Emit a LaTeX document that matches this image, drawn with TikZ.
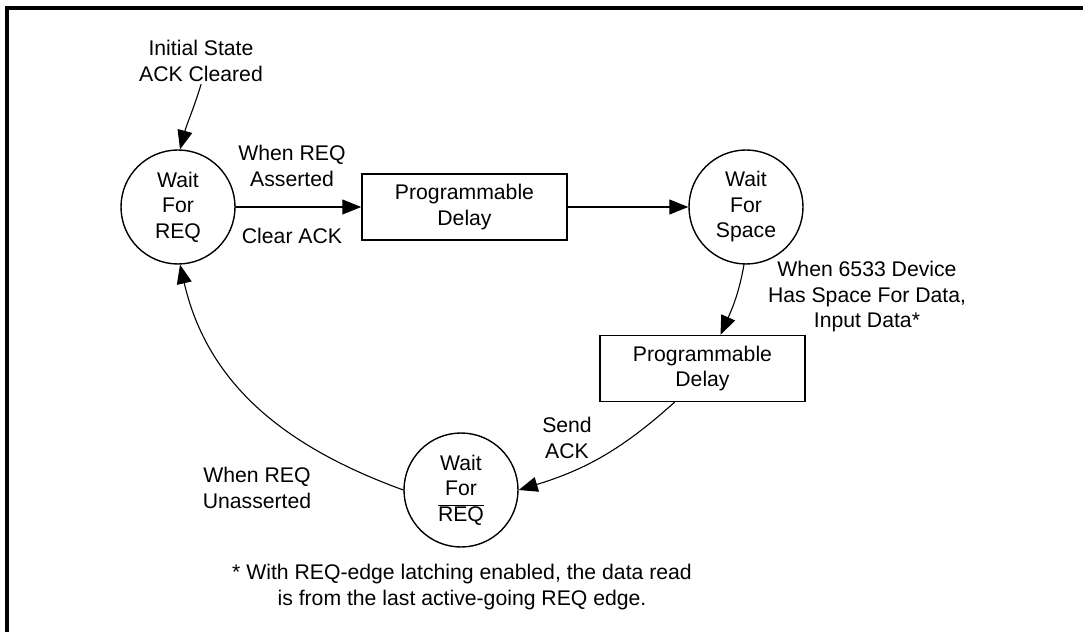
\documentclass[tikz,border=0pt]{standalone}
\usepackage{fontspec}
\setmainfont{Liberation Sans}
\usetikzlibrary{arrows.meta}

\begin{document}
\begin{tikzpicture}[x=1pt,y=1pt,line cap=round,font=\fontsize{21.2pt}{25.5pt}\selectfont]
	\tikzstyle{state}=[circle,draw,line width=1.4pt,minimum size=114pt,inner sep=0pt,align=center];
	\tikzstyle{delay}=[rectangle,draw,line width=1.5pt,minimum width=205pt,minimum height=66pt,inner sep=0pt,align=center];
	\tikzstyle{lbl}=[inner sep=0pt,align=center];
	\tikzstyle{go}=[line width=1.1pt,-{Triangle[length=19pt,width=15pt]}];

	\useasboundingbox (0,0) rectangle (1083,632);
	\draw[line width=4pt,line cap=butt,line join=miter] (6.5,0) -- (6.5,624) -- (1083,624);

	% states and delays
	\node[state] (waitreq)   at (178,425)   {Wait\\For\\REQ};
	\node[delay] (delayA)    at (464.5,425) {Programmable\\Delay};
	\node[state] (waitspace) at (746,425)   {Wait\\For\\Space};
	\node[delay] (delayB)    at (702.5,263.5) {Programmable\\Delay};
	\node[state] (waitnreq)  at (461,142)   {Wait\\For\\$\overline{\mbox{REQ}}$};

	% labels
	\node[lbl,outer sep=3pt] (init) at (201,571) {Initial State\\ACK Cleared};
	\node[lbl] (asserted)   at (292,466) {When REQ\\Asserted};
	\node[lbl] (clearack)   at (292,396) {Clear ACK};
	\node[lbl] (hasspace)   at (867,335) {When 6533 Device\\Has Space For Data,\\Input Data*};
	\node[lbl] (sendack)    at (567,194) {Send\\ACK};
	\node[lbl] (unasserted) at (257,144) {When REQ\\Unasserted};
	\node[lbl] (note)       at (462,45)  {* With REQ-edge latching enabled, the data read\\is from the last active-going REQ edge.};

	% transitions
	\draw[go] (init.south) to[out=-107,in=75] (waitreq.88);
	\draw[go] (waitreq) -- (delayA);
	\draw[go] (delayA) -- (waitspace);
	\draw[go] (waitspace.-92) to[out=-100,in=66] ([xshift=18pt]delayB.north);
	\draw[go] ([xshift=-28pt]delayB.south) to[out=-138,in=17] (waitnreq.east);
	\draw[go] (waitnreq.west) to[out=160,in=-77] (waitreq.-88);
\end{tikzpicture}
\end{document}
